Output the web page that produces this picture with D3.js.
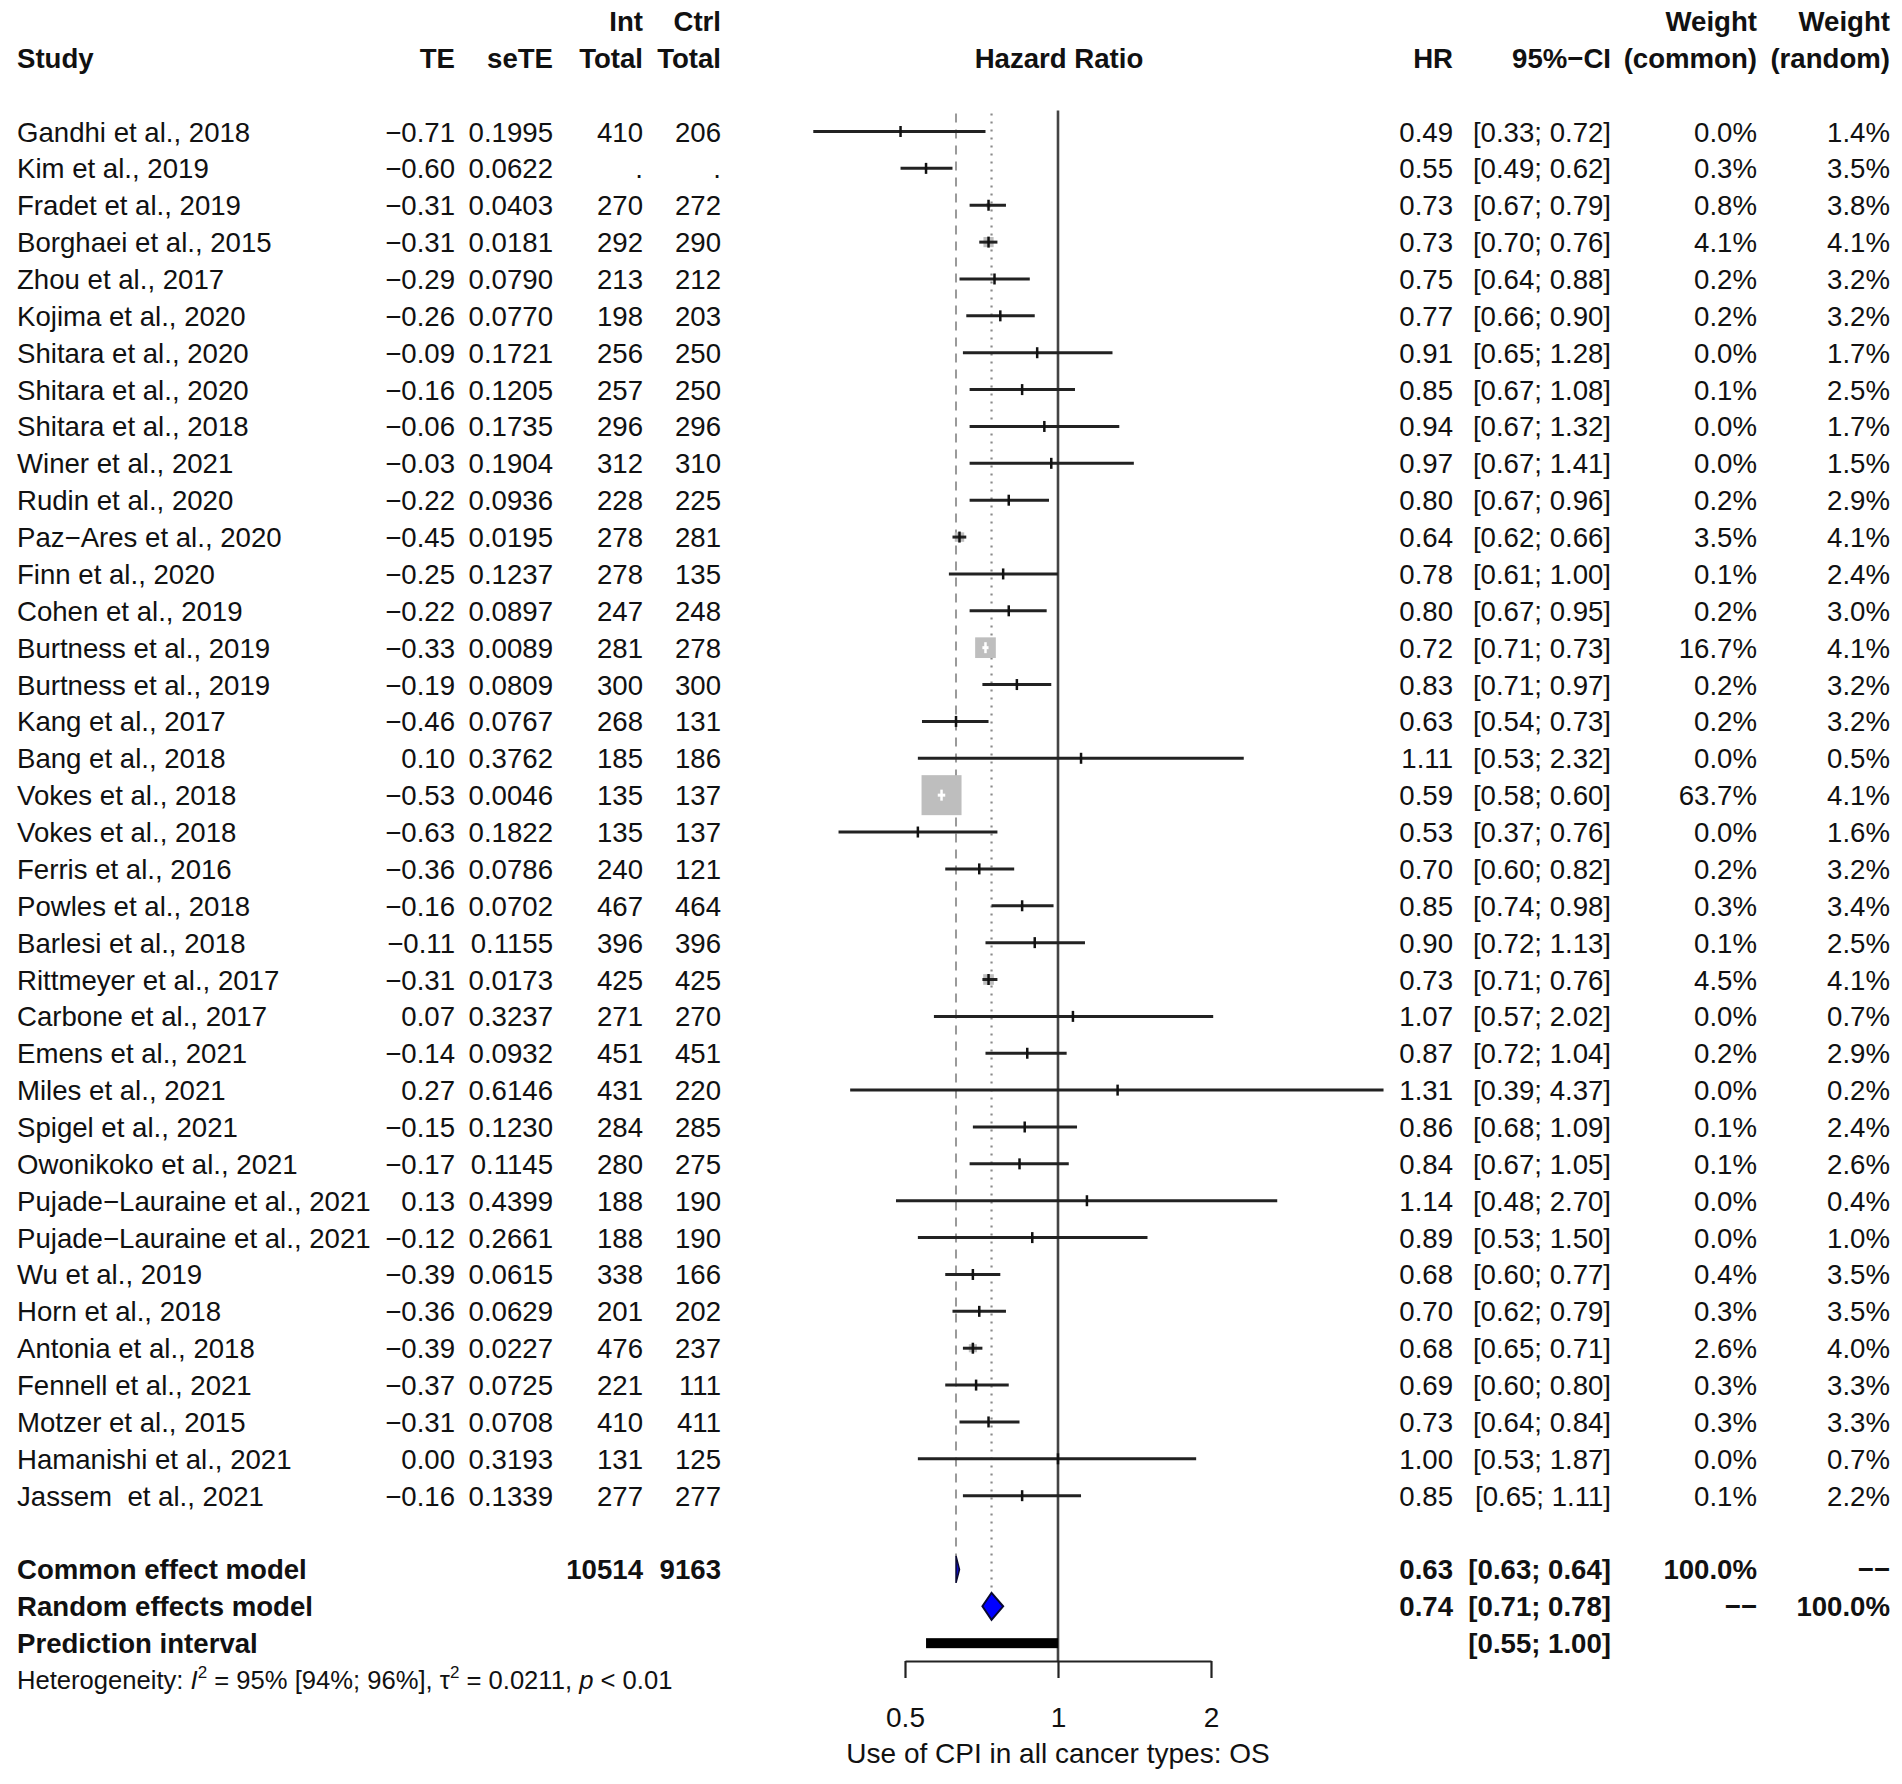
<!DOCTYPE html>
<html>
<head>
<meta charset="utf-8">
<script src="https://cdn.jsdelivr.net/npm/d3@7"></script>
<style>
  body { margin: 0; background: #fff; }
  text { font-family: "Liberation Sans", Arial, Helvetica, sans-serif; white-space: pre; }
</style>
</head>
<body>
<div id="chart"></div>
<script>
  // study data, as printed in the table
  const studies = ['Gandhi et al., 2018', 'Kim et al., 2019', 'Fradet et al., 2019', 'Borghaei et al., 2015',
    'Zhou et al., 2017', 'Kojima et al., 2020', 'Shitara et al., 2020', 'Shitara et al., 2020',
    'Shitara et al., 2018', 'Winer et al., 2021', 'Rudin et al., 2020', 'Paz\u2212Ares et al., 2020',
    'Finn et al., 2020', 'Cohen et al., 2019', 'Burtness et al., 2019', 'Burtness et al., 2019',
    'Kang et al., 2017', 'Bang et al., 2018', 'Vokes et al., 2018', 'Vokes et al., 2018',
    'Ferris et al., 2016', 'Powles et al., 2018', 'Barlesi et al., 2018', 'Rittmeyer et al., 2017',
    'Carbone et al., 2017', 'Emens et al., 2021', 'Miles et al., 2021', 'Spigel et al., 2021',
    'Owonikoko et al., 2021', 'Pujade\u2212Lauraine et al., 2021', 'Pujade\u2212Lauraine et al., 2021',
    'Wu et al., 2019', 'Horn et al., 2018', 'Antonia et al., 2018', 'Fennell et al., 2021',
    'Motzer et al., 2015', 'Hamanishi et al., 2021', 'Jassem  et al., 2021'];
  const te = [-0.71, -0.60, -0.31, -0.31, -0.29, -0.26, -0.09, -0.16, -0.06, -0.03, -0.22, -0.45, -0.25,
    -0.22, -0.33, -0.19, -0.46, 0.10, -0.53, -0.63, -0.36, -0.16, -0.11, -0.31, 0.07, -0.14, 0.27,
    -0.15, -0.17, 0.13, -0.12, -0.39, -0.36, -0.39, -0.37, -0.31, 0.00, -0.16];
  const seTE = [0.1995, 0.0622, 0.0403, 0.0181, 0.0790, 0.0770, 0.1721, 0.1205, 0.1735, 0.1904, 0.0936,
    0.0195, 0.1237, 0.0897, 0.0089, 0.0809, 0.0767, 0.3762, 0.0046, 0.1822, 0.0786, 0.0702, 0.1155,
    0.0173, 0.3237, 0.0932, 0.6146, 0.1230, 0.1145, 0.4399, 0.2661, 0.0615, 0.0629, 0.0227, 0.0725,
    0.0708, 0.3193, 0.1339];
  const intTotal = ['410', '.', '270', '292', '213', '198', '256', '257', '296', '312', '228', '278', '278',
    '247', '281', '300', '268', '185', '135', '135', '240', '467', '396', '425', '271', '451', '431',
    '284', '280', '188', '188', '338', '201', '476', '221', '410', '131', '277'];
  const ctrlTotal = ['206', '.', '272', '290', '212', '203', '250', '250', '296', '310', '225', '281', '135',
    '248', '278', '300', '131', '186', '137', '137', '121', '464', '396', '425', '270', '451', '220',
    '285', '275', '190', '190', '166', '202', '237', '111', '411', '125', '277'];
  const hr = [0.49, 0.55, 0.73, 0.73, 0.75, 0.77, 0.91, 0.85, 0.94, 0.97, 0.80, 0.64, 0.78, 0.80, 0.72,
    0.83, 0.63, 1.11, 0.59, 0.53, 0.70, 0.85, 0.90, 0.73, 1.07, 0.87, 1.31, 0.86, 0.84, 1.14, 0.89,
    0.68, 0.70, 0.68, 0.69, 0.73, 1.00, 0.85];
  const lower = [0.33, 0.49, 0.67, 0.70, 0.64, 0.66, 0.65, 0.67, 0.67, 0.67, 0.67, 0.62, 0.61, 0.67, 0.71,
    0.71, 0.54, 0.53, 0.58, 0.37, 0.60, 0.74, 0.72, 0.71, 0.57, 0.72, 0.39, 0.68, 0.67, 0.48, 0.53,
    0.60, 0.62, 0.65, 0.60, 0.64, 0.53, 0.65];
  const upper = [0.72, 0.62, 0.79, 0.76, 0.88, 0.90, 1.28, 1.08, 1.32, 1.41, 0.96, 0.66, 1.00, 0.95, 0.73,
    0.97, 0.73, 2.32, 0.60, 0.76, 0.82, 0.98, 1.13, 0.76, 2.02, 1.04, 4.37, 1.09, 1.05, 2.70, 1.50,
    0.77, 0.79, 0.71, 0.80, 0.84, 1.87, 1.11];
  const wCommon = [0.0, 0.3, 0.8, 4.1, 0.2, 0.2, 0.0, 0.1, 0.0, 0.0, 0.2, 3.5, 0.1, 0.2, 16.7, 0.2, 0.2,
    0.0, 63.7, 0.0, 0.2, 0.3, 0.1, 4.5, 0.0, 0.2, 0.0, 0.1, 0.1, 0.0, 0.0, 0.4, 0.3, 2.6, 0.3, 0.3,
    0.0, 0.1];
  const wRandom = [1.4, 3.5, 3.8, 4.1, 3.2, 3.2, 1.7, 2.5, 1.7, 1.5, 2.9, 4.1, 2.4, 3.0, 4.1, 3.2, 3.2,
    0.5, 4.1, 1.6, 3.2, 3.4, 2.5, 4.1, 0.7, 2.9, 0.2, 2.4, 2.6, 0.4, 1.0, 3.5, 3.5, 4.0, 3.3, 3.3,
    0.7, 2.2];

  // pooled results
  const common = { hr: 0.63, lo: 0.63, hi: 0.64, nInt: '10514', nCtrl: '9163' };
  const random = { hr: 0.74, lo: 0.71, hi: 0.78 };
  const prediction = { lo: 0.55, hi: 1.00 };
  const axisTicks = [0.5, 1, 2];

  const W = 1902, H = 1784;
  const fs = 27.6;
  const ink = '#111';

  const svg = d3.select('#chart').append('svg')
    .attr('width', W).attr('height', H);
  svg.append('rect').attr('width', W).attr('height', H).attr('fill', '#fff');

  // rows: -3,-2 headers, 0..37 studies, 39..41 pooled, 42 heterogeneity
  const y = d3.scaleLinear().domain([0, 42]).range([131.5, 131.5 + 42 * 36.87]);
  const x = d3.scaleLog().domain([0.5, 2]).range([905, 1211]);
  const base = 10;

  // column positions (text right edges)
  const col = { study: 17, te: 455, se: 553, nInt: 643, nCtrl: 721, hr: 1453, ci: 1611, wc: 1757, wr: 1890 };

  const rows = studies.map((s, i) => ({
    i, s, te: te[i], se: seTE[i], nInt: intTotal[i], nCtrl: ctrlTotal[i],
    hr: hr[i], lo: lower[i], hi: upper[i], wc: wCommon[i], wr: wRandom[i]
  }));

  function fmtNum(v, d) {
    const s = Math.abs(v).toFixed(d);
    return (v < 0 ? '\u2212' : '') + s;
  }

  // headers
  const head = svg.append('g').attr('font-weight', 'bold').attr('font-size', fs).attr('fill', ink);
  const headers = [
    { t: 'Study', x: col.study, r: -2, a: 'start' },
    { t: 'TE', x: col.te, r: -2, a: 'end' },
    { t: 'seTE', x: col.se, r: -2, a: 'end' },
    { t: 'Int', x: col.nInt, r: -3, a: 'end' },
    { t: 'Total', x: col.nInt, r: -2, a: 'end' },
    { t: 'Ctrl', x: col.nCtrl, r: -3, a: 'end' },
    { t: 'Total', x: col.nCtrl, r: -2, a: 'end' },
    { t: 'Hazard Ratio', x: 1059, r: -2, a: 'middle' },
    { t: 'HR', x: col.hr, r: -2, a: 'end' },
    { t: '95%\u2212CI', x: col.ci, r: -2, a: 'end' },
    { t: 'Weight', x: col.wc, r: -3, a: 'end' },
    { t: '(common)', x: col.wc, r: -2, a: 'end' },
    { t: 'Weight', x: col.wr, r: -3, a: 'end' },
    { t: '(random)', x: col.wr, r: -2, a: 'end' }
  ];
  head.selectAll('text').data(headers).enter().append('text')
    .attr('x', d => d.x).attr('y', d => y(d.r) + base)
    .attr('text-anchor', d => d.a).text(d => d.t);

  // study table text
  const body = svg.append('g').attr('font-size', fs).attr('fill', ink);
  const cells = [
    { k: 'study', a: 'start', f: d => d.s },
    { k: 'te', a: 'end', f: d => fmtNum(d.te, 2) },
    { k: 'se', a: 'end', f: d => d.se.toFixed(4) },
    { k: 'nInt', a: 'end', f: d => d.nInt },
    { k: 'nCtrl', a: 'end', f: d => d.nCtrl },
    { k: 'hr', a: 'end', f: d => d.hr.toFixed(2) },
    { k: 'ci', a: 'end', f: d => '[' + d.lo.toFixed(2) + '; ' + d.hi.toFixed(2) + ']' },
    { k: 'wc', a: 'end', f: d => d.wc.toFixed(1) + '%' },
    { k: 'wr', a: 'end', f: d => d.wr.toFixed(1) + '%' }
  ];
  cells.forEach(c => {
    body.append('g').selectAll('text').data(rows).enter().append('text')
      .attr('x', col[c.k]).attr('y', d => y(d.i) + base)
      .attr('text-anchor', c.a).text(c.f);
  });

  // pooled rows text
  const pooled = svg.append('g').attr('font-size', fs).attr('font-weight', 'bold').attr('fill', ink);
  const pooledText = [
    { t: 'Common effect model', x: col.study, r: 39, a: 'start' },
    { t: common.nInt, x: col.nInt, r: 39, a: 'end' },
    { t: common.nCtrl, x: col.nCtrl, r: 39, a: 'end' },
    { t: common.hr.toFixed(2), x: col.hr, r: 39, a: 'end' },
    { t: '[' + common.lo.toFixed(2) + '; ' + common.hi.toFixed(2) + ']', x: col.ci, r: 39, a: 'end' },
    { t: '100.0%', x: col.wc, r: 39, a: 'end' },
    { t: '\u2212\u2212', x: col.wr, r: 39, a: 'end' },
    { t: 'Random effects model', x: col.study, r: 40, a: 'start' },
    { t: random.hr.toFixed(2), x: col.hr, r: 40, a: 'end' },
    { t: '[' + random.lo.toFixed(2) + '; ' + random.hi.toFixed(2) + ']', x: col.ci, r: 40, a: 'end' },
    { t: '\u2212\u2212', x: col.wc, r: 40, a: 'end' },
    { t: '100.0%', x: col.wr, r: 40, a: 'end' },
    { t: 'Prediction interval', x: col.study, r: 41, a: 'start' },
    { t: '[' + prediction.lo.toFixed(2) + '; ' + prediction.hi.toFixed(2) + ']', x: col.ci, r: 41, a: 'end' }
  ];
  pooled.selectAll('text').data(pooledText).enter().append('text')
    .attr('x', d => d.x).attr('y', d => y(d.r) + base)
    .attr('text-anchor', d => d.a).text(d => d.t);

  // heterogeneity line
  const het = svg.append('text').attr('x', col.study).attr('y', y(42) + 9)
    .attr('font-size', 25.6).attr('fill', ink);
  het.append('tspan').text('Heterogeneity: ');
  het.append('tspan').attr('font-style', 'italic').text('I');
  het.append('tspan').attr('font-size', 17).attr('dy', -11).text('2');
  het.append('tspan').attr('dy', 11).text(' = 95% [94%; 96%], \u03c4');
  het.append('tspan').attr('font-size', 17).attr('dy', -11).text('2');
  het.append('tspan').attr('dy', 11).text(' = 0.0211, ');
  het.append('tspan').attr('font-style', 'italic').text('p');
  het.append('tspan').text(' < 0.01');

  // reference lines
  const plot = svg.append('g');
  const lineTop = y(0) - 20;
  plot.append('line')
    .attr('x1', x(1)).attr('x2', x(1)).attr('y1', lineTop - 1).attr('y2', 1661)
    .attr('stroke', '#444').attr('stroke-width', 2.6);
  plot.append('line')
    .attr('x1', x(common.hr)).attr('x2', x(common.hr)).attr('y1', lineTop + 2).attr('y2', y(39) - 13)
    .attr('stroke', '#9a9a9a').attr('stroke-width', 2).attr('stroke-dasharray', '9,7');
  plot.append('line')
    .attr('x1', x(random.hr)).attr('x2', x(random.hr)).attr('y1', lineTop + 2).attr('y2', y(40) - 13)
    .attr('stroke', '#8a8a8a').attr('stroke-width', 2.2).attr('stroke-dasharray', '2,6');

  // square size from inverse-variance weight (area proportional)
  const wMax = d3.max(seTE, s => 1 / (s * s));
  const side = d3.scaleSqrt().domain([0, wMax]).range([0, 40]);
  const tickH = 11;

  const marks = plot.selectAll('g.study').data(rows).enter().append('g').attr('class', 'study');
  marks.append('rect')
    .attr('x', d => x(d.hr) - side(1 / (d.se * d.se)) / 2)
    .attr('y', d => y(d.i) - side(1 / (d.se * d.se)) / 2)
    .attr('width', d => side(1 / (d.se * d.se)))
    .attr('height', d => side(1 / (d.se * d.se)))
    .attr('fill', '#bebebe');
  marks.append('line')
    .attr('x1', d => x(d.lo)).attr('x2', d => x(d.hi))
    .attr('y1', d => y(d.i)).attr('y2', d => y(d.i))
    .attr('stroke', d => (x(d.hi) - x(d.lo)) < side(1 / (d.se * d.se)) ? '#fff' : '#222')
    .attr('stroke-width', 3);
  marks.append('line')
    .attr('x1', d => x(d.hr)).attr('x2', d => x(d.hr))
    .attr('y1', d => y(d.i) - tickH / 2).attr('y2', d => y(d.i) + tickH / 2)
    .attr('stroke', d => side(1 / (d.se * d.se)) > tickH + 2 ? '#fff' : '#111')
    .attr('stroke-width', 2.5);

  // pooled diamonds
  function diamond(p, r) {
    const c = y(r), h = 13.5;
    return [[x(p.lo), c], [x(p.hr), c - h], [x(p.hi), c], [x(p.hr), c + h]].map(q => q.join(',')).join(' ');
  }
  plot.append('polygon').attr('points', diamond(common, 39))
    .attr('fill', '#1010c0').attr('stroke', '#0a0a30').attr('stroke-width', 1.5);
  plot.append('polygon').attr('points', diamond(random, 40))
    .attr('fill', '#0000ff').attr('stroke', '#0a0a30').attr('stroke-width', 2);

  // prediction interval
  plot.append('rect')
    .attr('x', x(prediction.lo)).attr('width', x(prediction.hi) - x(prediction.lo))
    .attr('y', y(41) - 5).attr('height', 10).attr('fill', '#000');

  // x axis
  const axis = svg.append('g').attr('transform', 'translate(0,1661)')
    .call(d3.axisBottom(x).tickValues(axisTicks).tickFormat(d3.format(''))
      .tickSize(17).tickSizeOuter(0).tickPadding(29));
  axis.select('.domain').attr('stroke', '#222').attr('stroke-width', 2.2);
  axis.selectAll('.tick line').attr('stroke', '#222').attr('stroke-width', 2.2);
  axis.selectAll('.tick text').attr('font-size', 28).attr('fill', ink)
    .attr('font-family', '"Liberation Sans", Arial, Helvetica, sans-serif');

  svg.append('text').attr('x', x(1)).attr('y', 1763).attr('text-anchor', 'middle')
    .attr('font-size', 28).attr('fill', ink).text('Use of CPI in all cancer types: OS');
</script>
</body>
</html>
